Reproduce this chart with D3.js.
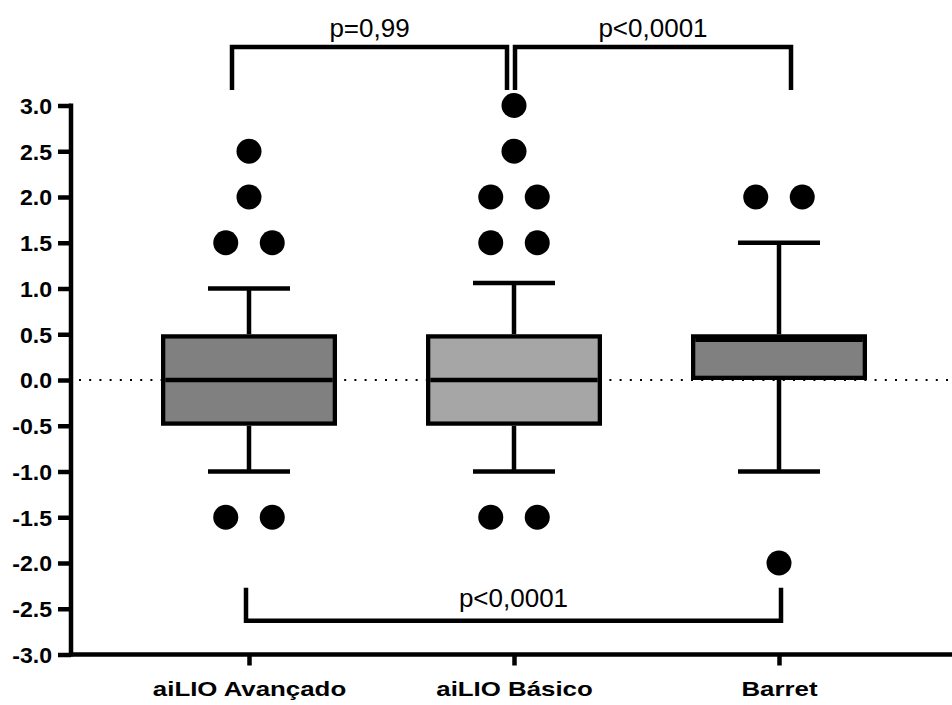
<!DOCTYPE html>
<html>
<head>
<meta charset="utf-8">
<script src="https://cdn.jsdelivr.net/npm/d3@7"></script>
<style>
  html, body { margin: 0; padding: 0; background: #fff; }
  svg { display: block; }
</style>
</head>
<body>
<svg id="chart" width="952" height="705"></svg>
<script>
// ---------- data ----------
const categories = ["aiLIO Avançado", "aiLIO Básico", "Barret"];
const whiskerLow  = [-1.0, -1.0, -1.0];
const q1Values    = [-0.5, -0.5, 0.0];
const medians     = [0.0, 0.0, 0.5];
const q3Values    = [0.5, 0.5, 0.5];
const whiskerHigh = [1.0, 1.06, 1.5];
const outliers = [
  [2.5, 2.0, 1.5, 1.5, -1.5, -1.5],
  [3.0, 2.5, 2.0, 2.0, 1.5, 1.5, -1.5, -1.5],
  [2.0, 2.0, -2.0]
];
const boxFills = ["#808080", "#a6a6a6", "#808080"];
const yTicks = [-3.0, -2.5, -2.0, -1.5, -1.0, -0.5, 0.0, 0.5, 1.0, 1.5, 2.0, 2.5, 3.0];
const comparisons = [
  { from: 0, to: 1, label: "p=0,99", level: 3.64, drop: 3.17 },
  { from: 1, to: 2, label: "p<0,0001", level: 3.64, drop: 3.17 },
  { from: 0, to: 2, label: "p<0,0001", level: -2.63, drop: -2.27 }
];

// ---------- scales ----------
const svg = d3.select("#chart");
const y = d3.scaleLinear().domain([-3, 3]).range([654.5, 105.5]);
const x = d3.scalePoint().domain(categories).range([249, 779]);

const axisX = 71;
const sw = 4.3;         // box stroke
const boxW = 176;
const capW = 82;
const dotR = 12.5;
const dotGap = 46.5;
const fmt = d => d3.format(".1f")(d).replace("\u2212", "-");

// zero dotted line
svg.append("line")
  .attr("x1", 76).attr("x2", 952)
  .attr("y1", y(0)).attr("y2", y(0))
  .attr("stroke", "#000").attr("stroke-width", 2)
  .attr("stroke-dasharray", "2,8.2")
  .attr("stroke-dashoffset", -3);

// ---------- y axis ----------
const yAxis = d3.axisLeft(y).tickValues(yTicks).tickFormat(fmt).tickSize(13).tickPadding(6);
const gy = svg.append("g").attr("transform", `translate(${axisX},0)`).call(yAxis);
gy.attr("font-size", 22).attr("font-family", "'Liberation Sans', Arial, sans-serif");
gy.select(".domain").remove();
gy.selectAll(".tick line").attr("stroke", "#000").attr("stroke-width", 4.5);
gy.selectAll(".tick text")
  .style("font-family", "'Liberation Sans', Arial, sans-serif")
  .style("font-weight", "bold").style("font-size", "22px").attr("fill", "#000")
  .attr("dy", "0.36em")
  .each(function() {
    const len = this.getComputedTextLength();
    d3.select(this).attr("textLength", len * 1.05).attr("lengthAdjust", "spacingAndGlyphs");
  });
svg.append("line").attr("x1", axisX).attr("x2", axisX)
  .attr("y1", y(3) - 2).attr("y2", y(-3) + 2)
  .attr("stroke", "#000").attr("stroke-width", 4.5);

// ---------- x axis ----------
const xAxis = d3.axisBottom(x).tickSize(11).tickPadding(16);
const gx = svg.append("g").attr("transform", `translate(0,${y(-3)})`).call(xAxis);
gx.select(".domain").remove();
gx.selectAll(".tick line").attr("stroke", "#000").attr("stroke-width", 4.5);
gx.selectAll(".tick text")
  .style("font-family", "'Liberation Sans', Arial, sans-serif")
  .style("font-weight", "bold").style("font-size", "21px").attr("fill", "#000")
  .attr("dy", "0.71em")
  .each(function() {
    const len = this.getComputedTextLength();
    d3.select(this).attr("textLength", len * 1.23).attr("lengthAdjust", "spacingAndGlyphs");
  });
svg.append("line").attr("x1", axisX - 2).attr("x2", 952)
  .attr("y1", y(-3)).attr("y2", y(-3))
  .attr("stroke", "#000").attr("stroke-width", 4.5);

// ---------- boxes ----------
categories.forEach((c, i) => {
  const cx = x(c);
  const g = svg.append("g");
  // whiskers
  g.append("line").attr("x1", cx).attr("x2", cx)
    .attr("y1", y(whiskerHigh[i])).attr("y2", y(q3Values[i]))
    .attr("stroke", "#000").attr("stroke-width", 4.5);
  g.append("line").attr("x1", cx).attr("x2", cx)
    .attr("y1", y(q1Values[i])).attr("y2", y(whiskerLow[i]))
    .attr("stroke", "#000").attr("stroke-width", 4.5);
  [whiskerHigh[i], whiskerLow[i]].forEach(v => {
    g.append("line").attr("x1", cx - capW / 2).attr("x2", cx + capW / 2)
      .attr("y1", y(v)).attr("y2", y(v))
      .attr("stroke", "#000").attr("stroke-width", 4.5);
  });
  // box (stroke inset)
  const top = y(q3Values[i]), bot = y(q1Values[i]);
  g.append("rect")
    .attr("x", cx - boxW / 2 + sw / 2).attr("y", top + sw / 2)
    .attr("width", boxW - sw).attr("height", bot - top - sw)
    .attr("fill", boxFills[i]).attr("stroke", "#000").attr("stroke-width", sw);
  // median
  const mw = 4.5;
  let my = y(medians[i]);
  my = Math.max(top + sw + mw / 2 - 1, Math.min(bot - sw - mw / 2 + 1, my));
  g.append("line")
    .attr("x1", cx - boxW / 2 + sw).attr("x2", cx + boxW / 2 - sw)
    .attr("y1", my).attr("y2", my)
    .attr("stroke", "#000").attr("stroke-width", mw);
  // outliers, spread horizontally when values coincide
  const groups = d3.group(outliers[i], v => v);
  groups.forEach((vals, v) => {
    const n = vals.length;
    vals.forEach((_, k) => {
      g.append("circle")
        .attr("cx", cx + (k - (n - 1) / 2) * dotGap)
        .attr("cy", y(v))
        .attr("r", dotR).attr("fill", "#000");
    });
  });
});

// ---------- comparison brackets ----------
comparisons.forEach((cmp, j) => {
  let x1 = x(categories[cmp.from]);
  let x2 = x(categories[cmp.to]);
  if (j === 0) { x1 -= 17; x2 -= 7; }
  else if (j === 1) { x1 += 1; x2 += 12; }
  else { x1 -= 3; x2 += 2; }
  const yl = y(cmp.level), yd = y(cmp.drop);
  svg.append("path")
    .attr("d", `M${x1},${yd}V${yl}H${x2}V${yd}`)
    .attr("fill", "none").attr("stroke", "#000").attr("stroke-width", 4.5)
    .attr("stroke-linejoin", "miter");
  const above = cmp.level > 0;
  svg.append("text")
    .attr("x", (x1 + x2) / 2)
    .attr("y", above ? yl - 10 : yl - 14)
    .attr("text-anchor", "middle")
    .attr("font-family", "'Liberation Sans', Arial, sans-serif")
    .attr("font-size", 26).attr("fill", "#000")
    .text(cmp.label);
});
</script>
</body>
</html>
